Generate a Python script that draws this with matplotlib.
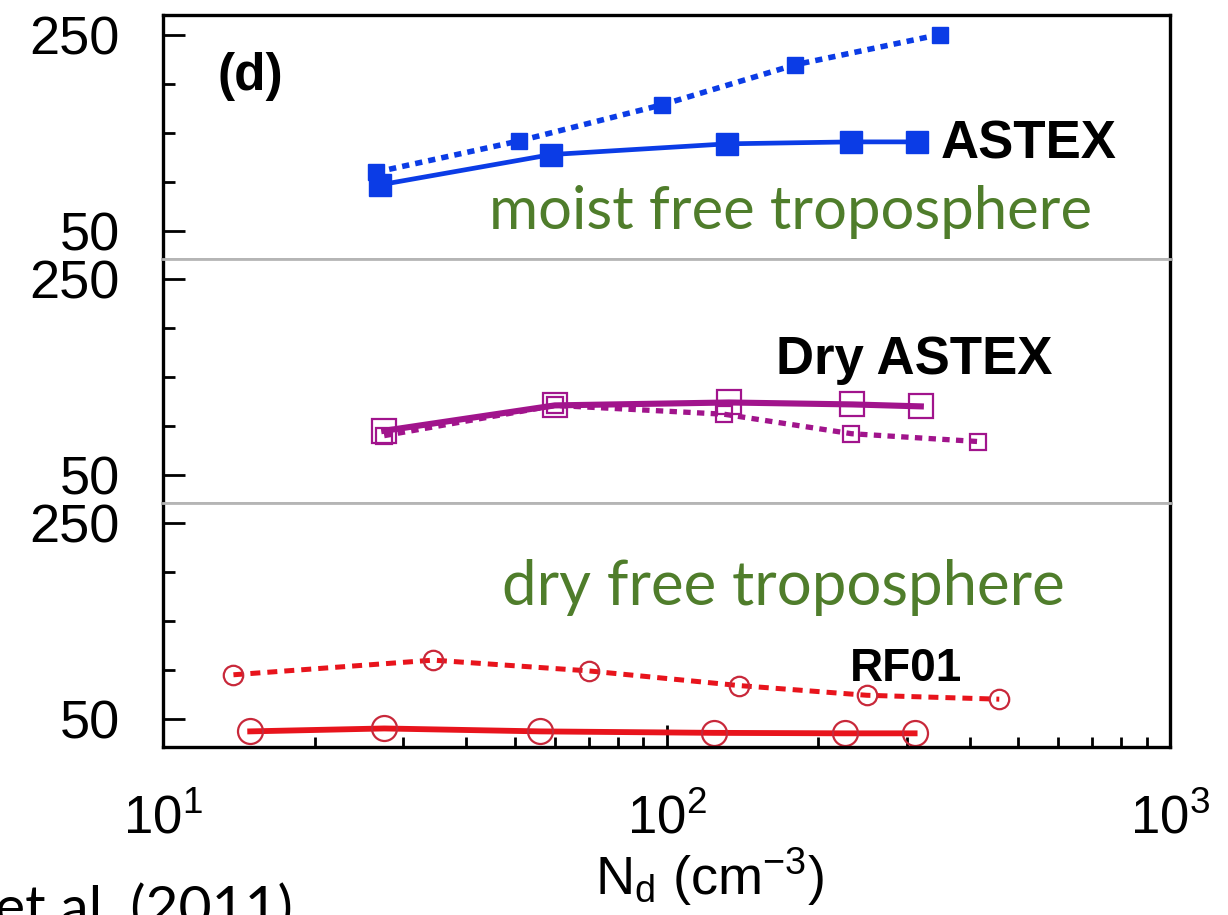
import numpy as np
import matplotlib
matplotlib.use("Agg")
import matplotlib.pyplot as plt
from matplotlib.ticker import FixedLocator, LogLocator, NullFormatter

# Data (N_d in cm^-3, y values in each panel's own units)
astex_solid_x = [27, 59, 132, 233, 314]
astex_solid_y = [97, 128, 139, 141, 141]
astex_dash_x = [26.5, 51, 98, 180, 349]
astex_dash_y = [110, 142, 179, 220, 251]

dry_solid_x = [27.5, 60, 133, 234, 320]
dry_solid_y = [95, 121, 124, 122, 120]
dry_dash_x = [27.5, 60, 130, 233, 415]
dry_dash_y = [90, 121, 112, 92, 84]

rf01_solid_x = [14.9, 27.5, 56, 124, 226, 311]
rf01_solid_y = [37, 40, 37, 35.5, 35, 35]
rf01_dash_x = [13.8, 34.4, 70, 139, 250, 458]
rf01_dash_y = [95, 110, 99, 84, 74, 70]

yticks_major = [50, 250]
yticks_minor = [100, 150, 200]

plt.rcParams['font.family'] = ['Liberation Sans', 'DejaVu Sans']
plt.rcParams['mathtext.fontset'] = 'custom'
plt.rcParams['mathtext.rm'] = 'Liberation Sans'
plt.rcParams['mathtext.it'] = 'Liberation Sans:italic'
plt.rcParams['mathtext.bf'] = 'Liberation Sans:bold'

W, H = 1228, 915
fig = plt.figure(figsize=(W / 100, H / 100), dpi=100)

left, right, top, bottom = 163, 1170, 15, 747
ph = (bottom - top) / 3
axes = []
for i in range(3):
    y0 = top + i * ph
    ax = fig.add_axes([left / W, 1 - (y0 + ph) / H, (right - left) / W, ph / H])
    axes.append(ax)

green = '#4f7d2b'
gray = '#b5b5b5'
blue = '#0b3ce6'
purple = '#a1148c'
red = '#e8141c'
red_edge = '#c8283a'

for i, ax in enumerate(axes):
    ax.set_xscale('log')
    ax.set_xlim(10, 1000)
    ax.set_ylim(21, 271)
    ax.yaxis.set_major_locator(FixedLocator(yticks_major))
    ax.yaxis.set_minor_locator(FixedLocator(yticks_minor))
    ax.tick_params(axis='y', which='both', direction='in', left=True, right=False,
                   labelsize=39, pad=31, width=2)
    ax.tick_params(axis='y', which='major', length=16)
    ax.tick_params(axis='y', which='minor', length=8.5)
    for s in ['left', 'right']:
        ax.spines[s].set_linewidth(2.4)
        ax.spines[s].set_color('black')
    ax.spines['top'].set_linewidth(2.4 if i == 0 else 2)
    ax.spines['top'].set_color('black' if i == 0 else gray)
    ax.spines['bottom'].set_linewidth(2.4 if i == 2 else 2)
    ax.spines['bottom'].set_color('black' if i == 2 else gray)
    if i < 2:
        ax.tick_params(axis='x', which='both', bottom=False, top=False,
                       labelbottom=False)
    else:
        ax.xaxis.set_major_locator(LogLocator(base=10))
        ax.xaxis.set_minor_locator(LogLocator(base=10, subs=np.arange(2, 10)))
        ax.xaxis.set_minor_formatter(NullFormatter())
        ax.tick_params(axis='x', which='both', direction='in', top=False,
                       labelsize=38, pad=34, width=2)
        ax.tick_params(axis='x', which='major', length=16)
        ax.tick_params(axis='x', which='minor', length=7.5)

ax1, ax2, ax3 = axes

# ASTEX (moist free troposphere)
ax1.plot(astex_dash_x, astex_dash_y, color=blue, lw=4, dashes=(1.3, 1.1),
         marker='s', ms=12, mfc=blue, mec=blue)
ax1.plot(astex_solid_x, astex_solid_y, color=blue, lw=3.4,
         marker='s', ms=16, mfc=blue, mec=blue)
ax1.text(12.85, 194, '(d)', fontsize=37, fontweight='bold')
ax1.text(350, 124, 'ASTEX', fontsize=38, fontweight='bold')
ax1.text(44.4, 52, 'moist free troposphere', fontsize=43, color=green,
         family='Lato')

# Dry ASTEX
ax2.plot(dry_dash_x, dry_dash_y, color=purple, lw=3.8, dashes=(1.4, 1.2),
         marker='s', ms=12, mfc='none', mec=purple, mew=1.6)
ax2.plot(dry_solid_x, dry_solid_y, color=purple, lw=4.4,
         marker='s', ms=17, mfc='none', mec=purple, mew=1.6)
ax2.text(165, 153, 'Dry ASTEX', fontsize=38, fontweight='bold')

# RF01 (dry free troposphere)
ax3.plot(rf01_dash_x, rf01_dash_y, color=red, lw=3.6, dashes=(2.0, 1.4),
         marker='o', ms=14, mfc='none', mec=red_edge, mew=1.6)
ax3.plot(rf01_solid_x, rf01_solid_y, color=red, lw=4.2,
         marker='o', ms=18, mfc='none', mec=red_edge, mew=1.6)
ax3.text(231, 88.5, 'RF01', fontsize=33, fontweight='bold')
ax3.text(47.1, 167, 'dry free troposphere', fontsize=44.5, color=green,
         family='Lato')

ax3.set_xlabel(r'N$_\mathrm{d}$ (cm$^{-3}$)', fontsize=39, va='top')
ax3.xaxis.set_label_coords((709 - left) / (right - left), -(846 - bottom) / ph)

fig.text(293 / W, 1 - 926 / H, 'et al. (2011)', fontsize=41, family='Lato',
         ha='right', va='baseline')

fig.savefig('out.png', dpi=100)
